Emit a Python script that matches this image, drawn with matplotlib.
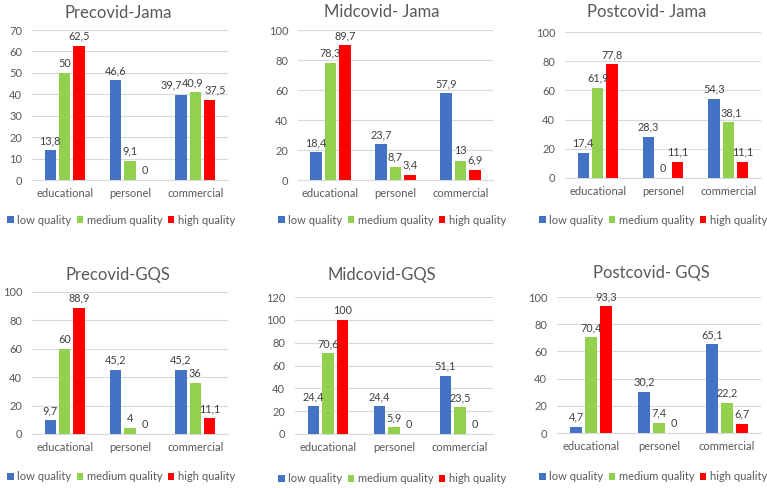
import matplotlib
matplotlib.use("Agg")
import matplotlib.pyplot as plt
from matplotlib.patches import Patch
import numpy as np

plt.rcParams['font.family'] = ['Lato', 'DejaVu Sans']

categories = ["educational", "personel", "commercial"]
series_names = ["low quality", "medium quality", "high quality"]
colors = ["#4472C4", "#92D050", "#FF0000"]

titles = ["Precovid-Jama", "Midcovid- Jama", "Postcovid- Jama",
          "Precovid-GQS", "Midcovid-GQS", "Postcovid- GQS"]

pre_jama_low = [13.8, 46.6, 39.7]
pre_jama_med = [50, 9.1, 40.9]
pre_jama_high = [62.5, 0, 37.5]

mid_jama_low = [18.4, 23.7, 57.9]
mid_jama_med = [78.3, 8.7, 13]
mid_jama_high = [89.7, 3.4, 6.9]

post_jama_low = [17.4, 28.3, 54.3]
post_jama_med = [61.9, 0, 38.1]
post_jama_high = [77.8, 11.1, 11.1]

pre_gqs_low = [9.7, 45.2, 45.2]
pre_gqs_med = [60, 4, 36]
pre_gqs_high = [88.9, 0, 11.1]

mid_gqs_low = [24.4, 24.4, 51.1]
mid_gqs_med = [70.6, 5.9, 23.5]
mid_gqs_high = [100, 0, 0]

post_gqs_low = [4.7, 30.2, 65.1]
post_gqs_med = [70.4, 7.4, 22.2]
post_gqs_high = [93.3, 0, 6.7]

panels_data = [
    [pre_jama_low, pre_jama_med, pre_jama_high],
    [mid_jama_low, mid_jama_med, mid_jama_high],
    [post_jama_low, post_jama_med, post_jama_high],
    [pre_gqs_low, pre_gqs_med, pre_gqs_high],
    [mid_gqs_low, mid_gqs_med, mid_gqs_high],
    [post_gqs_low, post_gqs_med, post_gqs_high],
]
y_max = [70, 100, 100, 100, 120, 100]
y_step = [10, 20, 20, 20, 20, 20]

W, H = 767, 488
# layout in pixels: (left, right, y_zero, y_top, title_x, title_y, legend_x, legend_y)
layout = [
    (32, 228, 180, 30, 118, 13, 121, 220),
    (298, 493, 180, 30, 382, 12, 392, 220),
    (565, 761, 178, 32, 647, 12, 653, 220),
    (32, 228, 434, 292, 118, 275, 121, 477),
    (295, 493, 434, 297, 382, 275, 392, 479),
    (557, 761, 433, 297, 651, 273, 653, 477),
]
# label horizontal nudges (points) to keep crowded labels apart: (panel, series, category) -> dx
label_nudge = {(0, 0, 2): -7, (0, 1, 2): -2, (0, 2, 2): 4,
               (2, 1, 2): 2}

txt = "#595959"
fig = plt.figure(figsize=(W / 100, H / 100), dpi=100)

bar_w = 0.177
step = 0.22
x = np.arange(len(categories))

for i in range(6):
    l, r, y0, yt, tx, ty, lx, ly = layout[i]
    ax = fig.add_axes([l / W, 1 - y0 / H, (r - l) / W, (y0 - yt) / H])
    data = panels_data[i]
    for s in range(3):
        vals = data[s]
        bars = ax.bar(x + (s - 1) * step, vals, width=bar_w, color=colors[s], zorder=3)
        for c, (b, v) in enumerate(zip(bars, vals)):
            lab = ("%g" % v).replace(".", ",")
            dx = label_nudge.get((i, s, c), 0)
            ax.annotate(lab, (b.get_x() + b.get_width() / 2, v), xytext=(dx, 3),
                        textcoords="offset points", ha="center", va="bottom",
                        fontsize=7.8, color="#404040", zorder=4)
    ax.set_xlim(-0.5, 2.5)
    ax.set_ylim(0, y_max[i])
    ax.set_yticks(np.arange(0, y_max[i] + 1, y_step[i]))
    ax.set_xticks(x)
    ax.set_xticklabels(categories)
    ax.grid(axis="y", color="#D9D9D9", linewidth=0.8, zorder=0)
    for sp in ["top", "right", "left"]:
        ax.spines[sp].set_visible(False)
    ax.spines["bottom"].set_color("#D9D9D9")
    ax.tick_params(axis="both", length=0, colors=txt, labelsize=8)
    ax.tick_params(axis="y", pad=7)
    ax.tick_params(axis="x", pad=6)
    fig.text(tx / W, 1 - ty / H, titles[i], ha="center", va="center",
             fontsize=12, color=txt)
    handles = [Patch(facecolor=c) for c in colors]
    fig.legend(handles, series_names, loc="center", bbox_to_anchor=(lx / W, 1 - ly / H),
               ncol=3, frameon=False, fontsize=8, handlelength=0.6, handleheight=0.6,
               handletextpad=0.3, columnspacing=0.5, labelcolor=txt, borderpad=0)

fig.savefig("out.png", dpi=100, facecolor="white")
